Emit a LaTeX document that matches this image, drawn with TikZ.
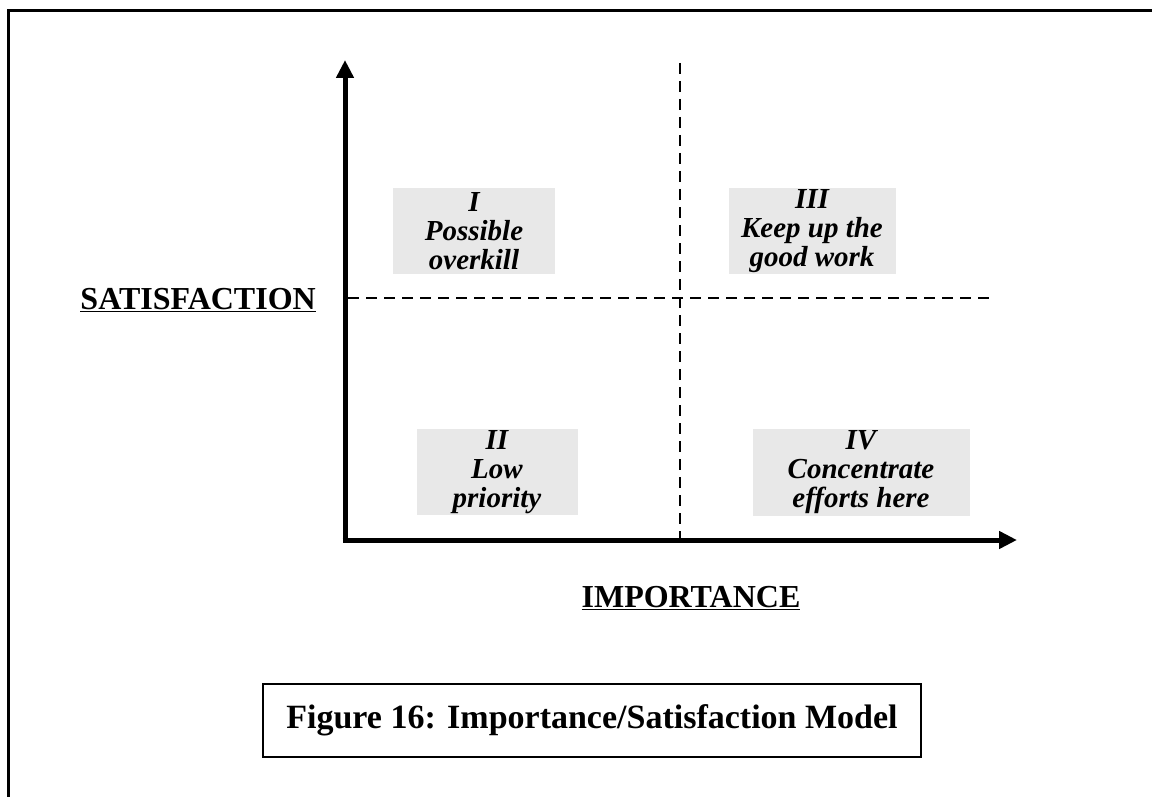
\documentclass[tikz,border=0pt]{standalone}
\usepackage{fontspec}
\setmainfont{Liberation Serif}
\usetikzlibrary{arrows.meta}
\definecolor{boxgray}{HTML}{E8E8E8}
\begin{document}
\begin{tikzpicture}[x=1pt,y=-1pt,
  quadbox/.style={fill=boxgray, inner sep=0pt, align=center,
    font=\bfseries\itshape\fontsize{29}{29}\selectfont},
  axislabel/.style={inner sep=0pt, font=\bfseries\fontsize{32}{34}\selectfont},
  axisline/.style={line width=5pt, -{Triangle[length=18pt,width=17pt]}},
  divider/.style={line width=1.3pt, dash pattern=on 11pt off 7pt}]
\useasboundingbox (0,0) rectangle (1152,797);

% open frame round the figure
\draw[line width=3pt] (8,797) -- (8,11) -- (1152,11);

% axes
\coordinate (origin) at (345,540);
\coordinate (ytip) at (345,60);
\coordinate (xtip) at (1017,540);
\draw[axisline] ([yshift=2.5pt]origin) -- (ytip);
\draw[axisline] ([xshift=-2.5pt]origin) -- (xtip);

% quadrant dividers
\coordinate (vtop) at (680,63);
\coordinate (vbot) at (680,538);
\coordinate (hleft) at (348,298);
\coordinate (hright) at (995,298);
\draw[divider] (vtop) -- (vbot);
\draw[divider] (hleft) -- (hright);

% quadrants
\node[quadbox, minimum width=162pt, minimum height=86pt] (q1) at (474,231) {I\\Possible\\overkill};
\node[quadbox, minimum width=167pt, minimum height=86pt] (q3) at (812,231) {III\\Keep up the\\good work};
\node[quadbox, minimum width=161pt, minimum height=86pt] (q2) at (497,472) {II\\Low\\priority};
\node[quadbox, minimum width=217pt, minimum height=87pt] (q4) at (861,472) {IV\\Concentrate\\efforts here};

% axis labels
\node[axislabel, anchor=east] (sat) at (316,300) {\underline{SATISFACTION}};
\node[axislabel] (imp) at (691,598) {\underline{IMPORTANCE}};

% caption
\node[draw, line width=2pt, minimum width=658pt, minimum height=73pt,
  font=\bfseries\fontsize{34}{36}\selectfont] (cap) at (592,720)
  {Figure 16: Importance/Satisfaction Model};
\end{tikzpicture}
\end{document}
